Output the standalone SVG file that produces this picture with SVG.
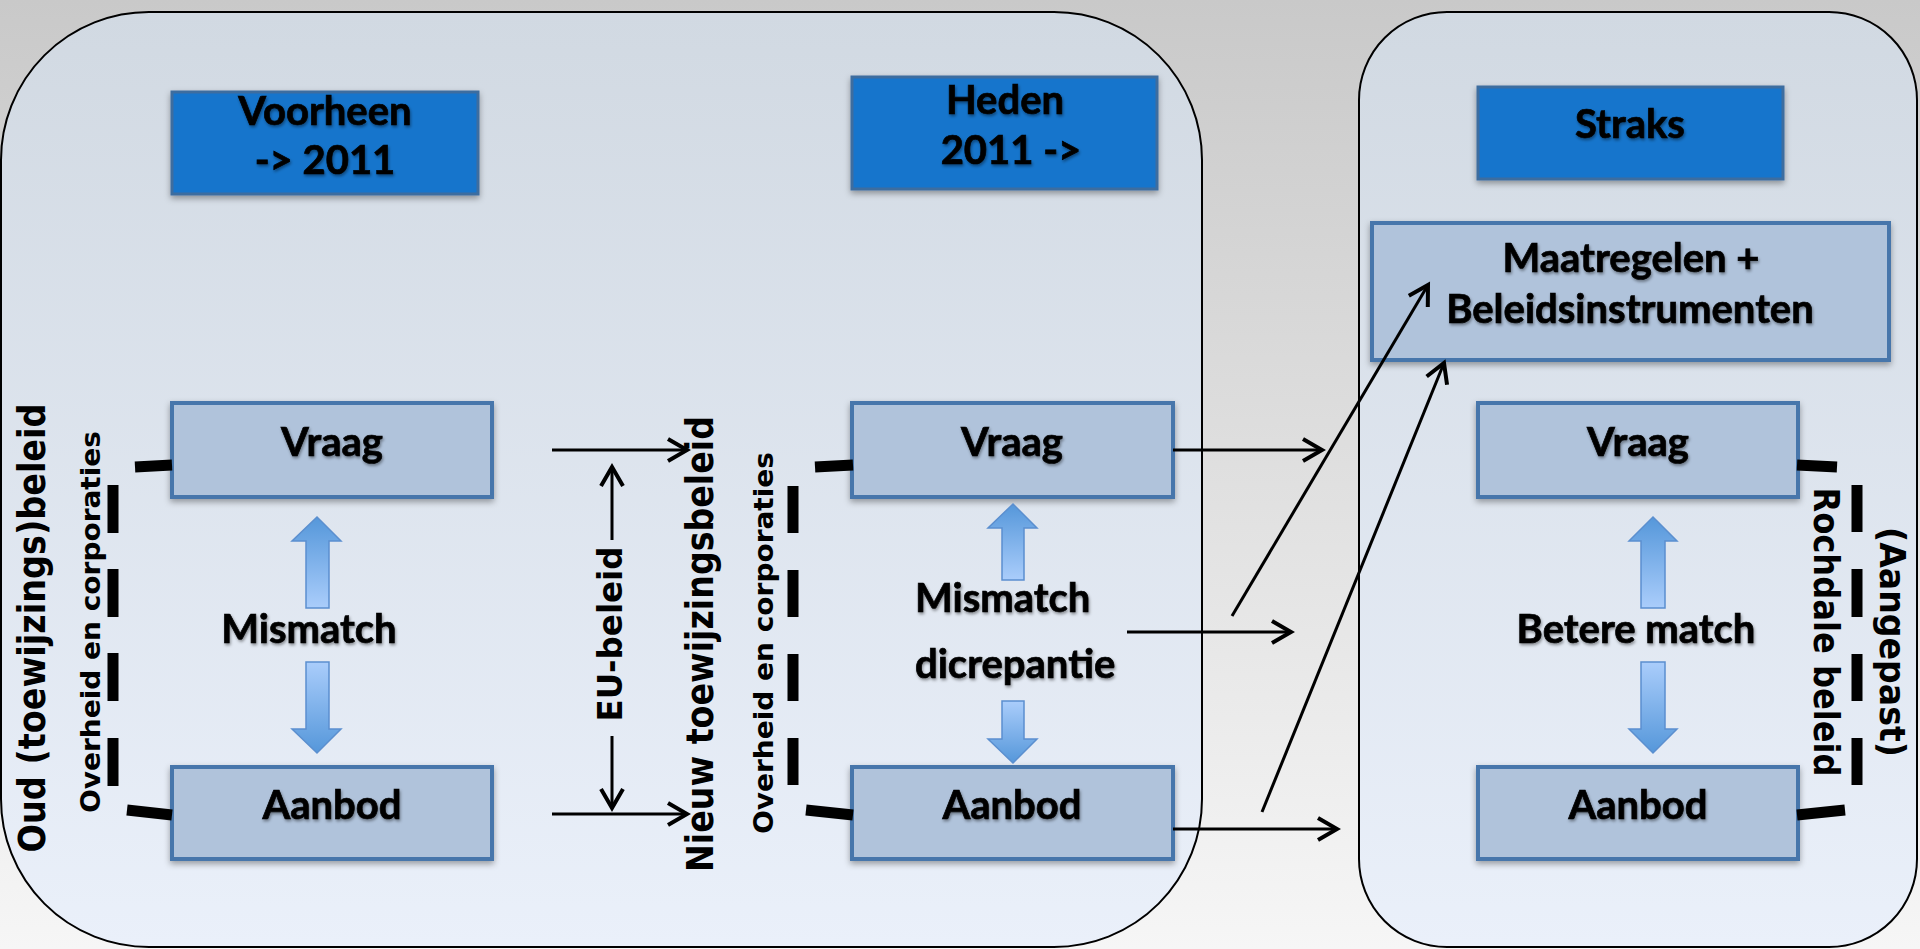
<svg xmlns="http://www.w3.org/2000/svg" width="1920" height="949" viewBox="0 0 1920 949">
  <defs>
    <linearGradient id="bg" x1="0" y1="0" x2="0" y2="1">
      <stop offset="0" stop-color="#c9c9c9"/>
      <stop offset="1" stop-color="#f6f6f6"/>
    </linearGradient>
    <linearGradient id="panel" x1="0" y1="0" x2="0" y2="1">
      <stop offset="0" stop-color="#d1d9e2"/>
      <stop offset="1" stop-color="#eaf0fa"/>
    </linearGradient>
    <linearGradient id="arrUp" x1="0" y1="0" x2="0" y2="1">
      <stop offset="0" stop-color="#5597da"/>
      <stop offset="1" stop-color="#aacdfb"/>
    </linearGradient>
    <linearGradient id="arrDown" x1="0" y1="0" x2="0" y2="1">
      <stop offset="0" stop-color="#aacdfb"/>
      <stop offset="1" stop-color="#5597da"/>
    </linearGradient>
    <filter id="boxShadow" x="-10%" y="-10%" width="120%" height="130%">
      <feDropShadow dx="0" dy="3" stdDeviation="3" flood-color="#000" flood-opacity="0.35"/>
    </filter>
    <filter id="textShadow" x="-5%" y="-20%" width="110%" height="150%">
      <feDropShadow dx="1" dy="2" stdDeviation="1.5" flood-color="#000" flood-opacity="0.4"/>
    </filter>
    <marker id="open" markerUnits="userSpaceOnUse" markerWidth="28" markerHeight="28" refX="22" refY="13" orient="auto" overflow="visible">
      <path d="M3,2 L22,13 L3,24" fill="none" stroke="#000" stroke-width="4" stroke-linejoin="miter"/>
    </marker>
    <style>
      .panel { fill: url(#panel); stroke: #000; stroke-width: 2; }
      .head { fill: #1874cc; stroke: #3e6d9f; stroke-width: 3; filter: url(#boxShadow); }
      .node { fill: #b0c3db; stroke: #4676ab; stroke-width: 4; filter: url(#boxShadow); }
      .lbl { font-family: Lato, "Liberation Sans", sans-serif; font-weight: bold; font-size: 40px; fill: #000; stroke: #000; stroke-width: 0.7; text-anchor: middle; filter: url(#textShadow); }
      .start { text-anchor: start; }
      .vert { font-family: "DejaVu Sans", Verdana, sans-serif; font-weight: bold; fill: #000; text-anchor: middle; }
      .conn { stroke: #000; stroke-width: 3; fill: none; marker-end: url(#open); }
      .bracket { stroke: #000; stroke-width: 11; fill: none; }
      .upArr { fill: url(#arrUp); stroke: #5b8fcf; stroke-width: 1.5; }
      .downArr { fill: url(#arrDown); stroke: #5b8fcf; stroke-width: 1.5; }
    </style>
  </defs>

  <!-- page background -->
  <rect x="0" y="0" width="1920" height="949" fill="url(#bg)"/>

  <!-- period panels -->
  <g id="panel-past-present">
    <rect class="panel" x="1" y="12" width="1201" height="935" rx="148" ry="148"/>
  </g>
  <g id="panel-future">
    <rect class="panel" x="1359" y="12" width="558" height="935" rx="88" ry="88"/>
  </g>

  <!-- period headers -->
  <g id="hdr-voorheen">
    <rect class="head" x="172" y="92" width="306" height="102"/>
    <text class="lbl" x="325" y="125">Voorheen</text>
    <text class="lbl" x="325" y="174">-&gt; 2011</text>
  </g>
  <g id="hdr-heden">
    <rect class="head" x="852" y="77" width="305" height="112"/>
    <text class="lbl" x="1005" y="114">Heden</text>
    <text class="lbl" x="1011" y="164">2011 -&gt;</text>
  </g>
  <g id="hdr-straks">
    <rect class="head" x="1478" y="87" width="305" height="92"/>
    <text class="lbl" x="1630" y="138">Straks</text>
  </g>

  <!-- policy measures -->
  <g id="maatregelen">
    <rect class="node" x="1372" y="223" width="517" height="137"/>
    <text class="lbl" x="1631" y="272">Maatregelen +</text>
    <text class="lbl" x="1630" y="323">Beleidsinstrumenten</text>
  </g>

  <!-- demand / supply nodes -->
  <g id="vraag-voorheen">
    <rect class="node" x="172" y="403" width="320" height="94"/>
    <text class="lbl" x="332" y="456">Vraag</text>
  </g>
  <g id="aanbod-voorheen">
    <rect class="node" x="172" y="767" width="320" height="92"/>
    <text class="lbl" x="332" y="819">Aanbod</text>
  </g>
  <g id="vraag-heden">
    <rect class="node" x="852" y="403" width="321" height="94"/>
    <text class="lbl" x="1012" y="456">Vraag</text>
  </g>
  <g id="aanbod-heden">
    <rect class="node" x="852" y="767" width="321" height="92"/>
    <text class="lbl" x="1012" y="819">Aanbod</text>
  </g>
  <g id="vraag-straks">
    <rect class="node" x="1478" y="403" width="320" height="94"/>
    <text class="lbl" x="1638" y="456">Vraag</text>
  </g>
  <g id="aanbod-straks">
    <rect class="node" x="1478" y="767" width="320" height="92"/>
    <text class="lbl" x="1638" y="819">Aanbod</text>
  </g>

  <!-- match indicators: up/down block arrows with caption -->
  <g id="match-voorheen">
    <path class="upArr" d="M317,517 L341,541 L329,541 L329,608 L306,608 L306,541 L292,541 Z"/>
    <path class="downArr" d="M306,662 L329,662 L329,729 L341,729 L317,753 L292,729 L306,729 Z"/>
    <text class="lbl" x="309" y="643">Mismatch</text>
  </g>
  <g id="match-heden">
    <path class="upArr" d="M1013,504 L1037,528 L1024,528 L1024,580 L1002,580 L1002,528 L988,528 Z"/>
    <path class="downArr" d="M1002,701 L1024,701 L1024,739 L1037,739 L1013,763 L988,739 L1002,739 Z"/>
    <text class="lbl start" x="915" y="612">Mismatch</text>
    <text class="lbl start" x="915" y="678">dicrepantie</text>
  </g>
  <g id="match-straks">
    <path class="upArr" d="M1653,517 L1677,541 L1665,541 L1665,608 L1641,608 L1641,541 L1629,541 Z"/>
    <path class="downArr" d="M1641,662 L1665,662 L1665,729 L1677,729 L1653,753 L1629,729 L1641,729 Z"/>
    <text class="lbl" x="1636" y="643">Betere match</text>
  </g>

  <!-- policy brackets around demand/supply -->
  <g id="bracket-voorheen">
    <path class="bracket" d="M172,465 L135,467"/>
    <path class="bracket" d="M113,485 V533 M113,569 V617 M113,653 V701 M113,738 V786"/>
    <path class="bracket" d="M172,815 L127,810"/>
    <text class="vert" font-size="37" textLength="449" lengthAdjust="spacingAndGlyphs" transform="translate(45,628) rotate(-90)">Oud (toewijzings)beleid</text>
    <text class="vert" font-size="27" textLength="382" lengthAdjust="spacingAndGlyphs" transform="translate(100,622) rotate(-90)">Overheid en corporaties</text>
  </g>
  <g id="bracket-heden">
    <path class="bracket" d="M853,465 L815,467"/>
    <path class="bracket" d="M793,486 V533 M793,570 V617 M793,654 V701 M793,738 V785"/>
    <path class="bracket" d="M853,815 L806,810"/>
    <text class="vert" font-size="37" textLength="456" lengthAdjust="spacingAndGlyphs" transform="translate(713,644) rotate(-90)">Nieuw toewijzingsbeleid</text>
    <text class="vert" font-size="27" textLength="382" lengthAdjust="spacingAndGlyphs" transform="translate(773,643) rotate(-90)">Overheid en corporaties</text>
  </g>
  <g id="bracket-straks">
    <path class="bracket" d="M1797,465 L1837,467"/>
    <path class="bracket" d="M1857,485 V532 M1857,569 V617 M1857,654 V701 M1857,738 V785"/>
    <path class="bracket" d="M1797,815 L1845,810"/>
    <text class="vert" font-size="36" textLength="289" lengthAdjust="spacingAndGlyphs" transform="translate(1814,632) rotate(90)">Rochdale beleid</text>
    <text class="vert" font-size="36" textLength="230" lengthAdjust="spacingAndGlyphs" transform="translate(1880,642) rotate(90)">(Aangepast)</text>
  </g>

  <!-- EU policy label -->
  <g id="eu-beleid">
    <text class="vert" font-size="34" textLength="175" lengthAdjust="spacingAndGlyphs" transform="translate(622,634) rotate(-90)">EU-beleid</text>
  </g>

  <!-- connectors -->
  <g id="connectors">
    <line class="conn" x1="552" y1="450" x2="687" y2="450"/>
    <line class="conn" x1="552" y1="814" x2="687" y2="814"/>
    <line class="conn" x1="612" y1="540" x2="612" y2="467"/>
    <line class="conn" x1="612" y1="736" x2="612" y2="808"/>
    <line class="conn" x1="1173" y1="450" x2="1322" y2="450"/>
    <line class="conn" x1="1127" y1="632" x2="1291" y2="632"/>
    <line class="conn" x1="1173" y1="829" x2="1337" y2="829"/>
    <line class="conn" x1="1232" y1="616" x2="1428" y2="285"/>
    <line class="conn" x1="1262" y1="812" x2="1444" y2="363"/>
  </g>
</svg>
